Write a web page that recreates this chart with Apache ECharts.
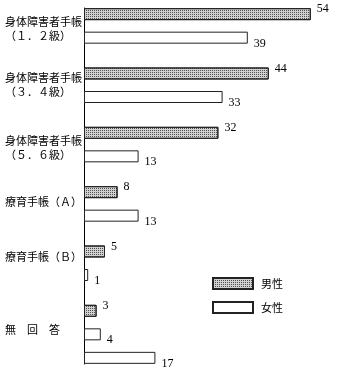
<!DOCTYPE html>
<html>
<head>
<meta charset="utf-8">
<script src="https://cdn.jsdelivr.net/npm/echarts@6/dist/echarts.min.js"></script>
<style>
html,body{margin:0;padding:0;background:#fff;}
#chart{width:339px;height:375px;}
</style>
</head>
<body>
<div id="chart"></div>
<script>
var categories = ['身体障害者手帳\n（１．２級）', '身体障害者手帳\n（３．４級）', '身体障害者手帳\n（５．６級）', '療育手帳（Ａ）', '療育手帳（Ｂ）', '無　回　答'];
var maleValues = [54, 44, 32, 8, 5, 3];
var femaleValues = [39, 33, 13, 13, 1, 4];
var noAnswerValues = ['-', '-', '-', '-', '-', 17];
var seriesNames = ['男性', '女性', '無回答'];

var chart = echarts.init(document.getElementById('chart'), null, {renderer: 'canvas'});
var numFont = 'Liberation Serif';
var cjkFont = 'Noto Sans CJK JP';

// upward shift (px) of each category label relative to its band centre
var labelLift = [9, 12, 9, 14, 18, 5];
var rich = {n: {fontFamily: cjkFont, fontSize: 11, lineHeight: 14, color: '#000'}};
labelLift.forEach(function (d, i) {
  rich['g' + i] = {fontSize: 1, lineHeight: 2 * d, color: 'rgba(0,0,0,0)'};
});

var maleStyle = {
  color: '#d0d0d0',
  borderColor: '#222',
  borderWidth: 1,
  decal: {
    symbol: 'rect',
    color: 'rgba(40,40,40,0.75)',
    symbolSize: 1,
    dashArrayX: [1, 1],
    dashArrayY: [1, 1],
    rotation: 0
  }
};
var femaleStyle = {color: '#ffffff', borderColor: '#222', borderWidth: 1};

function valueLabel(offsetY) {
  return {
    show: true,
    position: 'right',
    distance: 6,
    offset: [0, offsetY],
    color: '#000',
    fontFamily: numFont,
    fontSize: 12
  };
}

var option = {
  animation: false,
  backgroundColor: '#fff',
  grid: {left: 84, top: 8, width: 252, height: 356, containLabel: false, outerBoundsMode: 'none'},
  xAxis: {
    type: 'value', min: 0, max: 60,
    show: false
  },
  yAxis: {
    type: 'category',
    inverse: true,
    data: categories,
    axisLine: {show: true, lineStyle: {color: '#000', width: 1}},
    axisTick: {show: false},
    splitLine: {show: false},
    axisLabel: {
      align: 'left',
      margin: 79,
      color: '#000',
      fontFamily: cjkFont,
      fontSize: 11,
      lineHeight: 14,
      formatter: function (value, index) {
        return value.split('\n').map(function (l) {
          return '{n|' + l + '}';
        }).join('\n') + '\n{g' + index + '| }';
      },
      rich: rich
    }
  },
  legend: {
    data: [seriesNames[0], seriesNames[1]],
    orient: 'vertical',
    left: 212,
    top: 277,
    padding: 0,
    itemWidth: 40,
    itemHeight: 11,
    itemGap: 11,
    icon: 'rect',
    textStyle: {color: '#000', fontFamily: cjkFont, fontSize: 11, padding: [0, 0, 0, 3]}
  },
  series: [
    {
      name: seriesNames[0], type: 'bar', data: maleValues,
      barWidth: 12, barGap: '96%',
      itemStyle: maleStyle,
      label: valueLabel(-5)
    },
    {
      name: seriesNames[1], type: 'bar', data: femaleValues,
      barWidth: 12, barGap: '96%',
      itemStyle: femaleStyle,
      label: valueLabel(6)
    },
    {
      name: seriesNames[2], type: 'bar', data: noAnswerValues,
      barWidth: 12, barGap: '96%',
      itemStyle: femaleStyle,
      label: valueLabel(6)
    }
  ]
};
chart.setOption(option);
</script>
</body>
</html>
